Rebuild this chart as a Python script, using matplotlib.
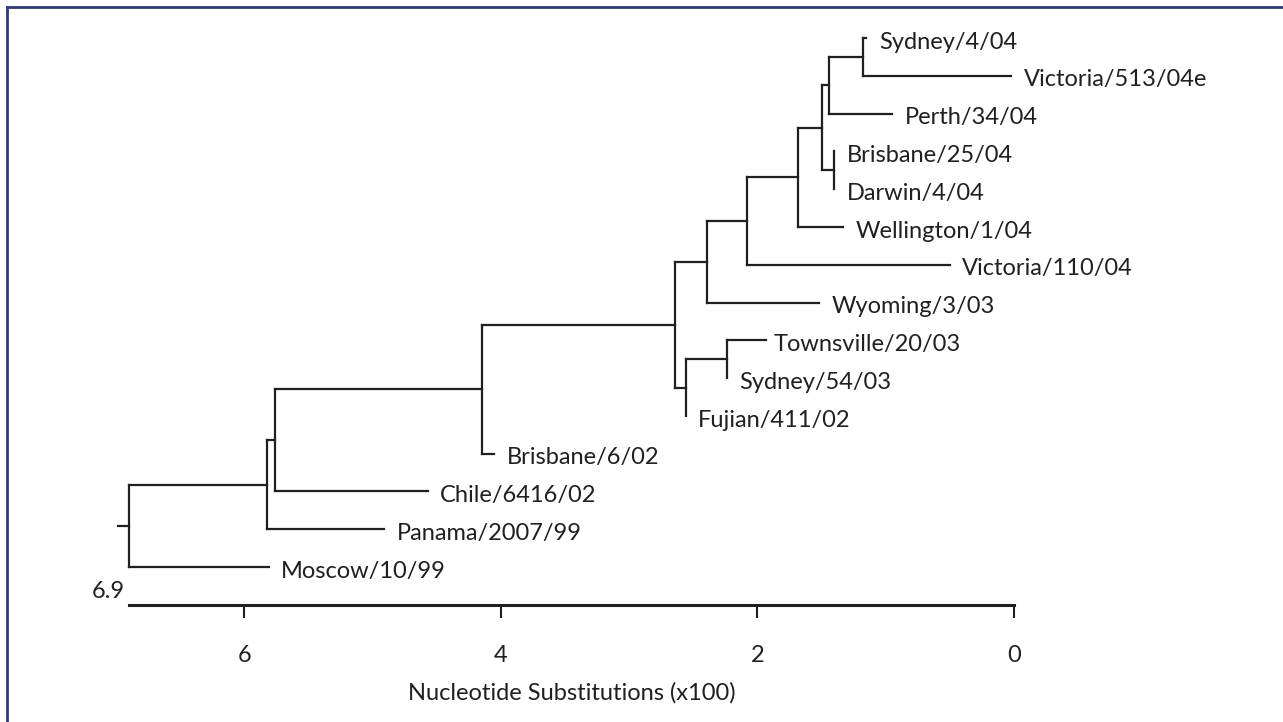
import matplotlib
matplotlib.use("Agg")
import matplotlib.pyplot as plt
from matplotlib.lines import Line2D
from matplotlib.transforms import offset_copy

# ---------------- data ----------------
leaf_names = [
    "Sydney/4/04", "Victoria/513/04e", "Perth/34/04", "Brisbane/25/04",
    "Darwin/4/04", "Wellington/1/04", "Victoria/110/04", "Wyoming/3/03",
    "Townsville/20/03", "Sydney/54/03", "Fujian/411/02", "Brisbane/6/02",
    "Chile/6416/02", "Panama/2007/99", "Moscow/10/99",
]
# distance from present (nucleotide substitutions x100) of each tip
leaf_dist = [1.15, 0.02, 0.95, 1.40, 1.40, 1.33, 0.50, 1.52,
             1.93, 2.24, 2.56, 4.05, 4.57, 4.91, 5.81]

# internal nodes: name -> (child 1, child 2, node distance)
node_names = ["N", "M", "L", "K", "J", "I", "H", "G", "F", "E", "D", "C", "B", "A"]
node_child1 = ["Sydney/4/04", "N", "Brisbane/25/04", "M", "K", "J", "I",
               "Townsville/20/03", "G", "H", "E", "D", "C", "B"]
node_child2 = ["Victoria/513/04e", "Perth/34/04", "Darwin/4/04", "L",
               "Wellington/1/04", "Victoria/110/04", "Wyoming/3/03",
               "Sydney/54/03", "Fujian/411/02", "F", "Brisbane/6/02",
               "Chile/6416/02", "Panama/2007/99", "Moscow/10/99"]
node_dist = [1.18, 1.44, 1.40, 1.50, 1.68, 2.08, 2.39, 2.24, 2.56, 2.64,
             4.15, 5.76, 5.82, 6.90]

root_name = "A"
scale_max = 6.9
tick_values = [6, 4, 2, 0]
xlabel = "Nucleotide Substitutions (x100)"

# ---------------- layout / style ----------------
W, H = 1283, 722
LINE = "#231f20"
TEXT = "#231f20"
NAVY = "#2f3a78"
FONT = ["Lato", "DejaVu Sans"]
FS = 17

fig = plt.figure(figsize=(W / 100, H / 100), dpi=100)
ax = fig.add_axes([0, 0, 1, 1])
# pixel mapping: x_px = 1014 - 128.3 * v ; y_px = 38 + 37.79 * i
ax.set_xlim(1014 / 128.3, (1014 - W) / 128.3)
ax.set_ylim((H - 38) / 37.79, -38 / 37.79)

# positions
xpos = {n: d for n, d in zip(leaf_names, leaf_dist)}
ypos = {n: i for i, n in enumerate(leaf_names)}
children = {}
for n, c1, c2, d in zip(node_names, node_child1, node_child2, node_dist):
    xpos[n] = d
    children[n] = (c1, c2)

def get_y(n):
    if n in ypos:
        return ypos[n]
    c1, c2 = children[n]
    ypos[n] = (get_y(c1) + get_y(c2)) / 2
    return ypos[n]

for n in node_names:
    get_y(n)

lw = 1.6
for n in node_names:
    c1, c2 = children[n]
    x = xpos[n]
    ax.plot([x, x], [ypos[c1], ypos[c2]], color=LINE, lw=lw, solid_capstyle="projecting")
    for c in (c1, c2):
        ax.plot([x, xpos[c]], [ypos[c], ypos[c]], color=LINE, lw=lw, solid_capstyle="projecting")

# root stub
ax.plot([xpos[root_name] + 0.08, xpos[root_name]], [ypos[root_name]] * 2, color=LINE, lw=lw)

# tip labels
label_nudge = {"Townsville/20/03": -4}
for n in leaf_names:
    dx = 9 + label_nudge.get(n, 0)
    ax.annotate(n, (xpos[n], ypos[n]), xytext=(dx, -3), textcoords="offset points",
                ha="left", va="center", fontsize=FS, family=FONT, color=TEXT)

# scale axis
for s in ["top", "left", "right"]:
    ax.spines[s].set_visible(False)
ax.spines["bottom"].set_position(("data", len(leaf_names)))
ax.spines["bottom"].set_bounds(scale_max, 0)
ax.spines["bottom"].set_linewidth(2.2)
ax.spines["bottom"].set_color(LINE)
ax.set_yticks([])
ax.set_xticks(tick_values)
ax.set_xticklabels([str(t) for t in tick_values], family=FONT, fontsize=FS, color=TEXT)
ax.tick_params(axis="x", direction="out", length=9, width=1.5, color=LINE, pad=20)
ax.patch.set_alpha(0)

ax.annotate(f"{scale_max}", (scale_max, len(leaf_names)), xytext=(-3, 2),
            textcoords="offset points", ha="right", va="bottom",
            fontsize=FS, family=FONT, color=TEXT)
ax.text(scale_max / 2, 17.33, xlabel, ha="center", va="center",
        fontsize=FS, family=FONT, color=TEXT)

# frame (top and left edges)
fig.add_artist(Line2D([7 / W, 1], [1 - 7 / H] * 2, transform=fig.transFigure, color=NAVY, lw=2))
fig.add_artist(Line2D([7 / W, 7 / W], [0, 1 - 7 / H], transform=fig.transFigure, color=NAVY, lw=2))

fig.savefig("out.png", dpi=100)
